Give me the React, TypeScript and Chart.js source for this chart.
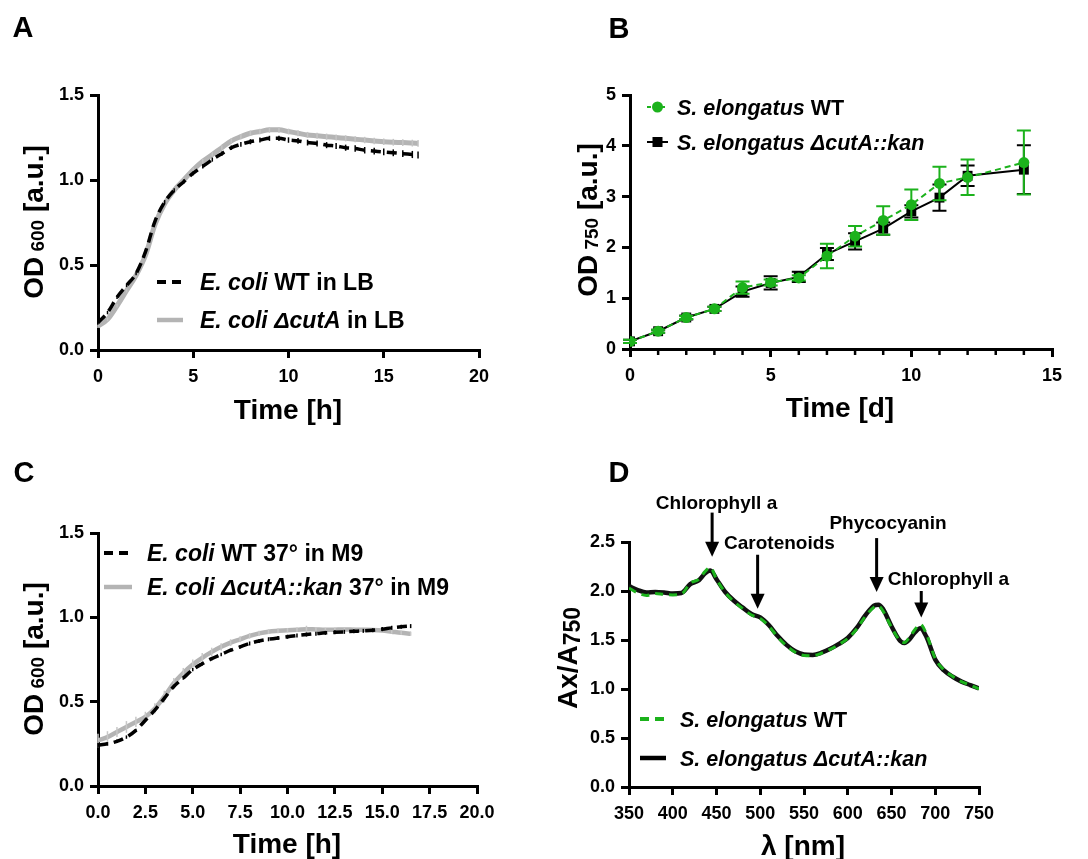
import React, { useEffect, useRef } from "react";
import { Chart, registerables } from "chart.js";

Chart.register(...registerables);

const FONT = '"Liberation Sans", Arial, Helvetica, sans-serif';
const GREEN = "#1cb21c";
const GRAY = "#b4b4b4";

// ---------- Panel A: E. coli in LB ----------
const timeA = [0, 0.5, 1, 1.5, 2, 2.5, 3, 3.5, 4, 4.5, 5, 5.5, 6, 6.5, 7, 7.5, 8, 8.5, 9, 9.5, 10, 10.5, 11, 11.5, 12, 12.5, 13, 13.5, 14, 14.5, 15, 15.5, 16, 16.5, 16.8];
const wtA = [0.16, 0.22, 0.31, 0.38, 0.45, 0.58, 0.76, 0.87, 0.94, 0.99, 1.04, 1.08, 1.12, 1.155, 1.19, 1.21, 1.225, 1.235, 1.245, 1.245, 1.235, 1.23, 1.22, 1.215, 1.205, 1.2, 1.19, 1.185, 1.175, 1.17, 1.165, 1.16, 1.155, 1.15, 1.147];
const wtA_sd = [0.01, 0.01, 0.01, 0.01, 0.01, 0.012, 0.012, 0.012, 0.012, 0.012, 0.012, 0.012, 0.012, 0.012, 0.013, 0.014, 0.015, 0.015, 0.015, 0.016, 0.016, 0.017, 0.017, 0.018, 0.018, 0.018, 0.018, 0.019, 0.019, 0.02, 0.02, 0.02, 0.02, 0.021, 0.021];
const mutA = [0.14, 0.18, 0.26, 0.35, 0.44, 0.56, 0.74, 0.86, 0.94, 1.0, 1.06, 1.11, 1.15, 1.19, 1.23, 1.255, 1.275, 1.285, 1.295, 1.295, 1.285, 1.275, 1.265, 1.26, 1.255, 1.25, 1.245, 1.24, 1.235, 1.23, 1.225, 1.222, 1.22, 1.217, 1.215];
const mutA_sd = [0.01, 0.01, 0.01, 0.012, 0.012, 0.012, 0.012, 0.012, 0.012, 0.012, 0.012, 0.013, 0.013, 0.014, 0.015, 0.015, 0.016, 0.016, 0.017, 0.017, 0.017, 0.017, 0.018, 0.018, 0.018, 0.018, 0.018, 0.018, 0.019, 0.019, 0.019, 0.02, 0.02, 0.02, 0.02];

// ---------- Panel B: S. elongatus growth ----------
const daysB = [0, 1, 2, 3, 4, 5, 6, 7, 8, 9, 10, 11, 12, 14];
const wtB = [0.15, 0.35, 0.62, 0.79, 1.21, 1.31, 1.4, 1.83, 2.22, 2.53, 2.84, 3.26, 3.38, 3.67];
const wtB_err = [0.03, 0.03, 0.03, 0.04, 0.12, 0.06, 0.05, 0.24, 0.2, 0.28, 0.3, 0.33, 0.35, 0.63];
const mutB = [0.15, 0.35, 0.62, 0.79, 1.13, 1.3, 1.42, 1.87, 2.12, 2.37, 2.71, 2.98, 3.41, 3.53];
const mutB_err = [0.03, 0.03, 0.04, 0.04, 0.1, 0.13, 0.1, 0.12, 0.16, 0.12, 0.12, 0.26, 0.2, 0.48];
const minorDaysB = [1, 2, 3, 4, 6, 7, 8, 9, 11, 12, 13, 14];

// ---------- Panel C: E. coli in M9 ----------
const timeC = [0, 0.5, 1, 1.5, 2, 2.5, 3, 3.5, 4, 4.5, 5, 5.5, 6, 6.5, 7, 7.5, 8, 8.5, 9, 9.5, 10, 10.5, 11, 11.5, 12, 12.5, 13, 13.5, 14, 14.5, 15, 15.5, 16, 16.5];
const wtC = [0.243, 0.25, 0.265, 0.29, 0.33, 0.39, 0.45, 0.52, 0.59, 0.64, 0.69, 0.725, 0.755, 0.78, 0.805, 0.825, 0.845, 0.86, 0.87, 0.878, 0.885, 0.892, 0.898, 0.903, 0.908, 0.911, 0.914, 0.917, 0.92, 0.924, 0.93, 0.938, 0.944, 0.948];
const wtC_sd = [0.012, 0.01, 0.01, 0.01, 0.01, 0.01, 0.01, 0.01, 0.01, 0.01, 0.01, 0.01, 0.01, 0.01, 0.01, 0.01, 0.012, 0.012, 0.012, 0.012, 0.012, 0.012, 0.012, 0.012, 0.012, 0.012, 0.012, 0.012, 0.012, 0.012, 0.012, 0.012, 0.012, 0.012];
const mutC = [0.27, 0.29, 0.32, 0.35, 0.38, 0.41, 0.46, 0.53, 0.61, 0.67, 0.72, 0.76, 0.795, 0.825, 0.85, 0.87, 0.89, 0.905, 0.915, 0.92, 0.924, 0.926, 0.93, 0.928, 0.926, 0.927, 0.928, 0.927, 0.926, 0.925, 0.922, 0.915, 0.908, 0.903];
const mutC_sd = [0.04, 0.035, 0.03, 0.035, 0.03, 0.03, 0.03, 0.035, 0.03, 0.03, 0.03, 0.028, 0.025, 0.022, 0.02, 0.018, 0.016, 0.015, 0.014, 0.014, 0.013, 0.013, 0.02, 0.013, 0.012, 0.012, 0.012, 0.012, 0.012, 0.012, 0.012, 0.012, 0.012, 0.012];

// ---------- Panel D: absorption spectra ----------
const lambdaD = [350, 360, 370, 380, 390, 400, 410, 420, 430, 437, 443, 450, 460, 470, 480, 490, 500, 510, 520, 530, 540, 550, 560, 570, 580, 590, 600, 610, 620, 630, 635, 640, 650, 660, 665, 670, 677, 683, 690, 700, 710, 720, 730, 740, 750];
const mutD = [2.05, 2.01, 1.985, 1.99, 1.985, 1.975, 1.98, 2.07, 2.11, 2.18, 2.21, 2.12, 1.99, 1.9, 1.83, 1.765, 1.73, 1.65, 1.54, 1.45, 1.385, 1.352, 1.348, 1.37, 1.41, 1.46, 1.52, 1.62, 1.75, 1.85, 1.86, 1.82, 1.64, 1.49, 1.47, 1.5, 1.58, 1.62, 1.53, 1.3, 1.19, 1.125, 1.075, 1.04, 1.005];
const wtD = [2.03, 1.98, 1.955, 1.975, 1.965, 1.96, 1.97, 2.08, 2.12, 2.2, 2.24, 2.12, 1.985, 1.89, 1.82, 1.755, 1.72, 1.64, 1.53, 1.44, 1.375, 1.342, 1.34, 1.365, 1.405, 1.455, 1.515, 1.61, 1.74, 1.835, 1.845, 1.8, 1.63, 1.49, 1.475, 1.52, 1.61, 1.66, 1.56, 1.31, 1.195, 1.128, 1.075, 1.04, 1.0];

// Annotations (data units)
const annoLabels = ["Chlorophyll a", "Carotenoids", "Phycocyanin", "Chlorophyll a"];
const annoLambda = [445, 497, 633, 684];
const annoTail = [2.8, 2.37, 2.54, 2.0];
const annoTip = [2.35, 1.82, 1.99, 1.73];
const annoLabelLambda = [450, 522, 646, 715];
const annoLabelY = [2.91, 2.5, 2.7, 2.13];

type Run = { text: string; italic?: boolean; size: number; dy?: number };

const fmt1 = (v: any) => Number(v).toFixed(1);
const fmt0 = (v: any) => String(Math.round(Number(v)));

function runFont(r: Run) {
  return `${r.italic ? "italic " : ""}bold ${r.size}px ${FONT}`;
}

function drawRuns(ctx: CanvasRenderingContext2D, runs: Run[], x: number, y: number, align: "left" | "center") {
  let total = 0;
  for (const r of runs) {
    ctx.font = runFont(r);
    total += ctx.measureText(r.text).width;
  }
  let cx = align === "center" ? x - total / 2 : x;
  ctx.textAlign = "left";
  ctx.textBaseline = "alphabetic";
  for (const r of runs) {
    ctx.font = runFont(r);
    ctx.fillText(r.text, cx, y + (r.dy || 0));
    cx += ctx.measureText(r.text).width;
  }
}

function drawErrors(chart: any, index: number, opts: any) {
  const ds = chart.data.datasets[index];
  const errs: number[] | undefined = ds.errors;
  if (!errs) return;
  const meta = chart.getDatasetMeta(index);
  const ys = chart.scales.y;
  const ctx: CanvasRenderingContext2D = chart.ctx;
  ctx.save();
  ctx.strokeStyle = ds.errorColor || ds.borderColor;
  ctx.lineWidth = opts.errorWidth || 1.5;
  ctx.setLineDash([]);
  const cap = opts.cap || 0;
  meta.data.forEach((pt: any, i: number) => {
    const v = ds.data[i].y;
    const top = ys.getPixelForValue(v + errs[i]);
    const bot = ys.getPixelForValue(v - errs[i]);
    ctx.beginPath();
    ctx.moveTo(pt.x, top);
    ctx.lineTo(pt.x, bot);
    if (cap) {
      ctx.moveTo(pt.x - cap / 2, top);
      ctx.lineTo(pt.x + cap / 2, top);
      ctx.moveTo(pt.x - cap / 2, bot);
      ctx.lineTo(pt.x + cap / 2, bot);
    }
    ctx.stroke();
  });
  ctx.restore();
}

const decorPlugin = {
  id: "decor",
  beforeDatasetDraw(chart: any, args: any, opts: any) {
    if (opts.errorPhase === "before") drawErrors(chart, args.index, opts);
  },
  afterDatasetDraw(chart: any, args: any, opts: any) {
    if (opts.errorPhase === "after") drawErrors(chart, args.index, opts);
  },
  afterDraw(chart: any, _args: any, opts: any) {
    const ctx: CanvasRenderingContext2D = chart.ctx;
    const xs = chart.scales.x;
    const ys = chart.scales.y;
    ctx.save();
    ctx.fillStyle = "#000";
    // panel letter
    if (opts.letter) {
      ctx.font = `bold 29px ${FONT}`;
      ctx.textAlign = "center";
      ctx.textBaseline = "middle";
      ctx.fillText(opts.letter.text, opts.letter.x, opts.letter.y);
    }
    // x title
    if (opts.xTitle) {
      drawRuns(ctx, opts.xTitle.runs, opts.xTitle.x, opts.xTitle.y + 10, "center");
    }
    // y title (rotated)
    if (opts.yTitle) {
      ctx.save();
      ctx.translate(opts.yTitle.x, opts.yTitle.y);
      ctx.rotate(-Math.PI / 2);
      drawRuns(ctx, opts.yTitle.runs, 0, 10, "center");
      ctx.restore();
    }
    // minor ticks
    if (opts.minorTicks) {
      ctx.strokeStyle = "#000";
      ctx.lineWidth = 2.5;
      for (const v of opts.minorTicks) {
        const px = xs.getPixelForValue(v);
        ctx.beginPath();
        ctx.moveTo(px, chart.chartArea.bottom);
        ctx.lineTo(px, chart.chartArea.bottom + 6);
        ctx.stroke();
      }
    }
    // legend
    if (opts.legend) {
      for (const it of opts.legend) {
        ctx.strokeStyle = it.color;
        ctx.lineWidth = it.width;
        ctx.setLineDash(it.dash || []);
        ctx.beginPath();
        ctx.moveTo(it.x1, it.y);
        ctx.lineTo(it.x2, it.y);
        ctx.stroke();
        ctx.setLineDash([]);
        ctx.fillStyle = it.color;
        const mx = (it.x1 + it.x2) / 2;
        if (it.marker === "circle") {
          ctx.beginPath();
          ctx.arc(mx, it.y, 5.5, 0, Math.PI * 2);
          ctx.fill();
        } else if (it.marker === "square") {
          ctx.fillRect(mx - 5, it.y - 5, 10, 10);
        }
        ctx.fillStyle = "#000";
        drawRuns(ctx, it.runs, it.textX, it.y + 0.36 * it.runs[0].size, "left");
      }
    }
    // annotations
    if (opts.annotations) {
      ctx.fillStyle = "#000";
      ctx.strokeStyle = "#000";
      for (let i = 0; i < annoLabels.length; i++) {
        const x = xs.getPixelForValue(annoLambda[i]);
        const tail = ys.getPixelForValue(annoTail[i]);
        const tip = ys.getPixelForValue(annoTip[i]);
        const head = 15;
        ctx.lineWidth = 3;
        ctx.beginPath();
        ctx.moveTo(x, tail);
        ctx.lineTo(x, tip - head + 2);
        ctx.stroke();
        ctx.beginPath();
        ctx.moveTo(x - 7, tip - head);
        ctx.lineTo(x + 7, tip - head);
        ctx.lineTo(x, tip);
        ctx.closePath();
        ctx.fill();
        drawRuns(
          ctx,
          [{ text: annoLabels[i], size: 19 }],
          xs.getPixelForValue(annoLabelLambda[i]),
          ys.getPixelForValue(annoLabelY[i]) + 7,
          "center"
        );
      }
    }
    ctx.restore();
  },
};

function axis(min: number, max: number, step: number, fmt: (v: any) => string, fit: (s: any) => void, pad: number) {
  return {
    type: "linear",
    min,
    max,
    afterFit: fit,
    border: { display: true, color: "#000", width: 3 },
    grid: {
      display: true,
      drawOnChartArea: false,
      drawTicks: true,
      tickLength: 8,
      tickWidth: 3,
      tickColor: "#000",
      color: "#000",
      lineWidth: 3,
    },
    ticks: {
      stepSize: step,
      autoSkip: false,
      maxRotation: 0,
      minRotation: 0,
      color: "#000",
      padding: pad,
      font: { family: FONT, size: 18, weight: "bold" },
      callback: fmt,
    },
    title: { display: false },
  };
}

function makeConfig(datasets: any[], x: any, y: any, padding: any, decor: any) {
  return {
    type: "line",
    data: { datasets },
    options: {
      responsive: false,
      animation: false,
      events: [],
      layout: { padding },
      scales: { x, y },
      plugins: { legend: { display: false }, tooltip: { enabled: false }, decor },
    },
    plugins: [decorPlugin],
  } as any;
}

const pts = (xs: number[], ys: number[]) => xs.map((v, i) => ({ x: v, y: ys[i] }));

// ---- configs ----
const configA = () =>
  makeConfig(
    [
      { data: pts(timeA, wtA), errors: wtA_sd, borderColor: "#000", borderWidth: 3.5, borderDash: [10, 6], pointRadius: 0, cubicInterpolationMode: "monotone" },
      { data: pts(timeA, mutA), errors: mutA_sd, borderColor: GRAY, errorColor: "#c4c4c4", borderWidth: 5, pointRadius: 0, cubicInterpolationMode: "monotone" },
    ],
    axis(0, 20, 5, fmt0, (s: any) => { s.height = 80; }, 8),
    axis(0, 1.5, 0.5, fmt1, (s: any) => { s.width = 98; }, 6),
    { left: 0, right: 65, top: 95, bottom: 0 },
    {
      errorPhase: "after",
      errorWidth: 1.5,
      letter: { text: "A", x: 23, y: 29 },
      xTitle: { runs: [{ text: "Time [h]", size: 28 }], x: 288, y: 409 },
      yTitle: { runs: [{ text: "OD", size: 28 }, { text: " 600", size: 19, dy: 1 }, { text: " [a.u.]", size: 28 }], x: 33, y: 222 },
      legend: [
        { x1: 157, x2: 183, y: 282, color: "#000", width: 4, dash: [9, 6], textX: 200, runs: [{ text: "E. coli", italic: true, size: 23 }, { text: " WT in LB", size: 23 }] },
        { x1: 157, x2: 183, y: 320, color: GRAY, width: 4.5, textX: 200, runs: [{ text: "E. coli ΔcutA", italic: true, size: 23 }, { text: " in LB", size: 23 }] },
      ],
    }
  );

const configB = () =>
  makeConfig(
    [
      { data: pts(daysB, wtB), errors: wtB_err, borderColor: GREEN, borderWidth: 2, borderDash: [6, 4], pointStyle: "circle", pointRadius: 5.5, pointBackgroundColor: GREEN, pointBorderWidth: 0 },
      { data: pts(daysB, mutB), errors: mutB_err, borderColor: "#000", borderWidth: 2, pointStyle: "rect", pointRadius: 7, pointBackgroundColor: "#000", pointBorderWidth: 0 },
    ],
    axis(0, 15, 5, fmt0, (s: any) => { s.height = 81; }, 8),
    axis(0, 5, 1, fmt0, (s: any) => { s.width = 86; }, 6),
    { left: 0, right: 36, top: 95, bottom: 0 },
    {
      errorPhase: "before",
      errorWidth: 2,
      cap: 14,
      minorTicks: minorDaysB,
      letter: { text: "B", x: 75, y: 30 },
      xTitle: { runs: [{ text: "Time [d]", size: 28 }], x: 296, y: 407 },
      yTitle: { runs: [{ text: "OD", size: 28 }, { text: " 750", size: 19, dy: 1 }, { text: " [a.u.]", size: 28 }], x: 43, y: 220 },
      legend: [
        { x1: 103, x2: 124, y: 107, color: GREEN, width: 2, dash: [4, 3], marker: "circle", textX: 133, runs: [{ text: "S. elongatus", italic: true, size: 21.5 }, { text: " WT", size: 21.5 }] },
        { x1: 103, x2: 124, y: 142, color: "#000", width: 2, marker: "square", textX: 133, runs: [{ text: "S. elongatus ΔcutA::kan", italic: true, size: 21.5 }] },
      ],
    }
  );

const configC = () =>
  makeConfig(
    [
      { data: pts(timeC, wtC), errors: wtC_sd, borderColor: "#000", borderWidth: 3.5, borderDash: [10, 6], pointRadius: 0, cubicInterpolationMode: "monotone" },
      { data: pts(timeC, mutC), errors: mutC_sd, borderColor: GRAY, errorColor: "#c8c8c8", borderWidth: 4.5, pointRadius: 0, cubicInterpolationMode: "monotone" },
    ],
    axis(0, 20, 2.5, fmt1, (s: any) => { s.height = 73; }, 8),
    axis(0, 1.5, 0.5, fmt1, (s: any) => { s.width = 98; }, 6),
    { left: 0, right: 67, top: 103, bottom: 0 },
    {
      errorPhase: "after",
      errorWidth: 1.5,
      letter: { text: "C", x: 24, y: 44 },
      xTitle: { runs: [{ text: "Time [h]", size: 28 }], x: 287, y: 413 },
      yTitle: { runs: [{ text: "OD", size: 28 }, { text: " 600", size: 19, dy: 1 }, { text: " [a.u.]", size: 28 }], x: 33, y: 229 },
      legend: [
        { x1: 104, x2: 132, y: 123, color: "#000", width: 4, dash: [9, 6], textX: 147, runs: [{ text: "E. coli", italic: true, size: 23 }, { text: " WT 37° in M9", size: 23 }] },
        { x1: 104, x2: 132, y: 157, color: GRAY, width: 4.5, textX: 147, runs: [{ text: "E. coli ΔcutA::kan", italic: true, size: 23 }, { text: " 37° in M9", size: 23 }] },
      ],
    }
  );

const configD = () =>
  makeConfig(
    [
      { data: pts(lambdaD, wtD), borderColor: GREEN, borderWidth: 3, borderDash: [8, 6], pointRadius: 0, cubicInterpolationMode: "monotone" },
      { data: pts(lambdaD, mutD), borderColor: "#111", borderWidth: 4.5, pointRadius: 0, cubicInterpolationMode: "monotone" },
    ],
    axis(350, 750, 50, fmt0, (s: any) => { s.height = 72; }, 8),
    axis(0, 2.5, 0.5, fmt1, (s: any) => { s.width = 85; }, 6),
    { left: 0, right: 109, top: 112, bottom: 0 },
    {
      letter: { text: "D", x: 75, y: 44 },
      xTitle: { runs: [{ text: "λ [nm]", size: 28 }], x: 259, y: 415 },
      yTitle: { runs: [{ text: "Ax/A", size: 28 }, { text: "750", size: 23, dy: 3 }], x: 23, y: 228 },
      annotations: true,
      legend: [
        { x1: 96, x2: 122, y: 289, color: GREEN, width: 4, dash: [9, 6], textX: 136, runs: [{ text: "S. elongatus", italic: true, size: 21.5 }, { text: " WT", size: 21.5 }] },
        { x1: 96, x2: 122, y: 328, color: "#000", width: 4.5, textX: 136, runs: [{ text: "S. elongatus ΔcutA::kan", italic: true, size: 21.5 }] },
      ],
    }
  );

function ChartPanel(props: { make: () => any; left: number; top: number; width: number; height: number }) {
  const ref = useRef<HTMLCanvasElement>(null);
  useEffect(() => {
    const chart = new Chart(ref.current as HTMLCanvasElement, props.make());
    return () => chart.destroy();
  }, []);
  return (
    <canvas
      ref={ref}
      width={props.width}
      height={props.height}
      style={{ position: "absolute", left: props.left, top: props.top, width: props.width, height: props.height, display: "block" }}
    />
  );
}

export default function App() {
  return (
    <div style={{ position: "absolute", left: 0, top: 0, width: 1088, height: 859, background: "#fff", overflow: "hidden" }}>
      <ChartPanel make={configA} left={0} top={0} width={544} height={430} />
      <ChartPanel make={configB} left={544} top={0} width={544} height={430} />
      <ChartPanel make={configC} left={0} top={430} width={544} height={429} />
      <ChartPanel make={configD} left={544} top={430} width={544} height={429} />
    </div>
  );
}
